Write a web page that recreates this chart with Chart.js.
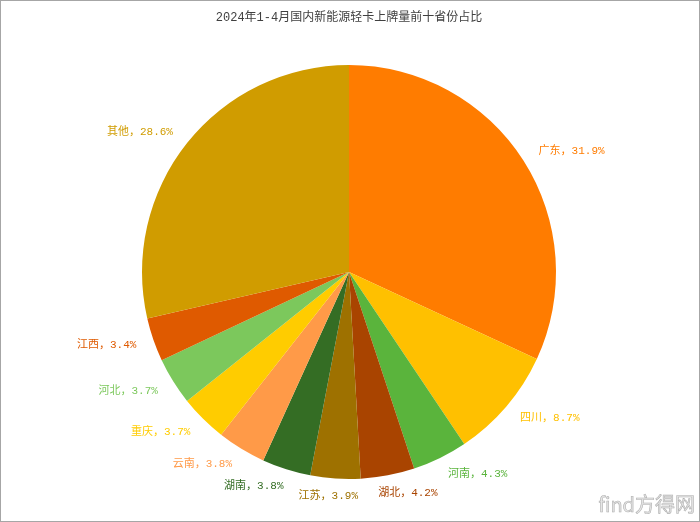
<!DOCTYPE html>
<html>
<head>
<meta charset="utf-8">
<script src="https://cdn.jsdelivr.net/npm/chart.js@4.4.0/dist/chart.umd.min.js"></script>
<style>
    html, body { margin: 0; padding: 0; background: #fff; }
    #wrap {
        position: relative;
        width: 700px;
        height: 522px;
        box-sizing: border-box;
        border: 1px solid #a6a6a6;
    }
    #mark {
        position: absolute;
        right: 4px;
        bottom: 3px;
        font: 20px 'Noto Sans CJK SC', sans-serif;
        color: #e6e6e6;
        -webkit-text-stroke: 0.6px #b0b0b0;
    }
</style>
</head>
<body>
<div id="wrap">
    <canvas id="pie" width="698" height="520"></canvas>
    <div id="mark">find方得网</div>
</div>
<script>
const provinces = ['广东', '四川', '河南', '湖北', '江苏', '湖南', '云南', '重庆', '河北', '江西', '其他'];
const shares = [31.9, 8.7, 4.3, 4.2, 3.9, 3.8, 3.8, 3.7, 3.7, 3.4, 28.6];
const colors = ['#FF7C00', '#FFC000', '#5AB43C', '#A94400', '#9E7100', '#346D24',
                '#FF9A48', '#FFCC00', '#7CC85C', '#DF5A00', '#D09C00'];
const titleText = '2024年1-4月国内新能源轻卡上牌量前十省份占比';

const FONT = "'Liberation Mono', 'Noto Sans CJK SC', monospace";

// draw "name，xx.x%" outside each slice
const outsideLabels = {
    id: 'outsideLabels',
    afterDatasetsDraw(chart) {
        const ctx = chart.ctx;
        const meta = chart.getDatasetMeta(0);
        ctx.save();
        ctx.font = '11px ' + FONT;
        ctx.textAlign = 'center';
        ctx.textBaseline = 'middle';
        meta.data.forEach((arc, i) => {
            const p = arc.getProps(['x', 'y', 'startAngle', 'endAngle', 'outerRadius'], true);
            const mid = (p.startAngle + p.endAngle) / 2;
            const r = p.outerRadius + 18;
            const ax = p.x + Math.cos(mid) * r;
            const ay = p.y + Math.sin(mid) * r;
            const text = provinces[i] + '，' + shares[i].toFixed(1) + '%';
            const w = ctx.measureText(text).width;
            const k = Math.max(-1, Math.min(1, Math.cos(mid) * 3));
            ctx.fillStyle = colors[i];
            ctx.fillText(text, ax + k * w / 2, ay);
        });
        ctx.restore();
    }
};

new Chart(document.getElementById('pie'), {
    type: 'pie',
    data: {
        labels: provinces,
        datasets: [{
            data: shares,
            backgroundColor: colors,
            borderWidth: 0
        }]
    },
    options: {
        responsive: false,
        animation: false,
        layout: { padding: { left: 0, right: 2, bottom: 42 } },
        plugins: {
            legend: { display: false },
            tooltip: { enabled: false },
            title: {
                display: true,
                text: titleText,
                color: '#404040',
                font: { size: 12, family: FONT, weight: 'normal' },
                padding: { top: 10, bottom: 39.6 }
            }
        }
    },
    plugins: [outsideLabels]
});
</script>
</body>
</html>
